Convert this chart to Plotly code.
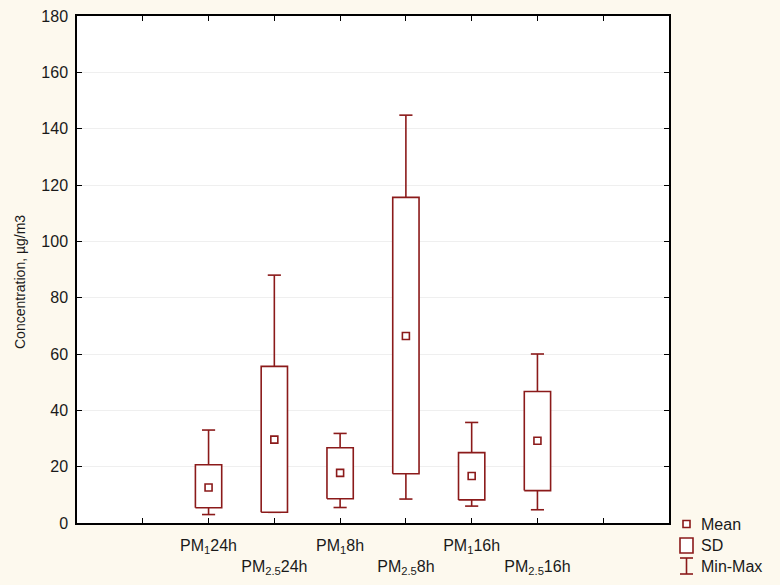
import plotly.graph_objects as go

categories = ["PM<sub>1</sub>24h", "PM<sub>2.5</sub>24h", "PM<sub>1</sub>8h",
              "PM<sub>2.5</sub>8h", "PM<sub>1</sub>16h", "PM<sub>2.5</sub>16h"]
mean_vals = [12.6, 29.6, 17.8, 66.4, 16.7, 29.2]
sd_low = [5.4, 3.8, 8.6, 17.5, 8.2, 11.5]
sd_high = [20.7, 55.6, 26.7, 115.6, 25.0, 46.7]
min_vals = [3.0, 3.8, 5.5, 8.5, 6.0, 4.7]
max_vals = [33.0, 88.0, 31.8, 144.8, 35.7, 60.0]
positions = [2, 3, 4, 5, 6, 7]
y_ticks = [0, 20, 40, 60, 80, 100, 120, 140, 160, 180]

RED = "#8B1A1A"
TXT = "#1A1A1A"
BOX_HALF = 0.2
CAP_HALF = 0.1

fig = go.Figure()

bx, by, wx, wy = [], [], [], []
for p, lo, hi, mn, mx in zip(positions, sd_low, sd_high, min_vals, max_vals):
    bx += [p - BOX_HALF, p + BOX_HALF, p + BOX_HALF, p - BOX_HALF, p - BOX_HALF, None]
    by += [lo, lo, hi, hi, lo, None]
    wx += [p, p, None, p, p, None, p - CAP_HALF, p + CAP_HALF, None, p - CAP_HALF, p + CAP_HALF, None]
    wy += [hi, mx, None, lo, mn, None, mx, mx, None, mn, mn, None]

fig.add_trace(go.Scatter(x=wx, y=wy, mode="lines", line=dict(color=RED, width=1.6),
                         hoverinfo="skip", showlegend=False))
fig.add_trace(go.Scatter(x=bx, y=by, mode="lines", fill="toself", fillcolor="white",
                         line=dict(color=RED, width=1.6), hoverinfo="skip", showlegend=False))
fig.add_trace(go.Scatter(x=positions, y=mean_vals, mode="markers",
                         marker=dict(symbol="square", size=7, color="white",
                                     line=dict(color=RED, width=1.6)),
                         showlegend=False))

ticktext = [""]
for i, c in enumerate(categories):
    ticktext.append(c if i % 2 == 0 else "<br>" + c)
ticktext.append("")

fig.update_xaxes(range=[0, 9], tickvals=list(range(1, 9)), ticktext=ticktext,
                 ticks="inside", ticklen=5, tickcolor="black", showgrid=False,
                 showline=True, linecolor="black", linewidth=1.5, mirror="ticks",
                 zeroline=False, automargin=False, ticklabelstandoff=7,
                 tickfont=dict(size=16, color=TXT))
fig.update_yaxes(range=[0, 180], tickvals=y_ticks, ticks="inside", ticklen=5,
                 tickcolor="black", showgrid=True, gridcolor="#EFEFEF", gridwidth=1,
                 showline=True, linecolor="black", linewidth=1.5, mirror="ticks",
                 zeroline=False, automargin=False, ticklabelstandoff=4,
                 tickfont=dict(size=16, color=TXT))

W, H = 592.0, 507.0
def px(x):
    return (x - 77) / W
def py(y):
    return (523 - y) / H

shapes = [
    dict(type="rect", xref="paper", yref="paper", x0=px(683), x1=px(690), y0=py(527.5), y1=py(520.5),
         line=dict(color=RED, width=1.6), fillcolor="white"),
    dict(type="rect", xref="paper", yref="paper", x0=px(680), x1=px(693), y0=py(553), y1=py(538),
         line=dict(color=RED, width=1.6), fillcolor="white"),
    dict(type="line", xref="paper", yref="paper", x0=px(686.5), x1=px(686.5), y0=py(558), y1=py(574),
         line=dict(color=RED, width=1.6)),
    dict(type="line", xref="paper", yref="paper", x0=px(680), x1=px(693), y0=py(558), y1=py(558),
         line=dict(color=RED, width=1.6)),
    dict(type="line", xref="paper", yref="paper", x0=px(680), x1=px(693), y0=py(574), y1=py(574),
         line=dict(color=RED, width=1.6)),
]
annots = [dict(text="Concentration, µg/m3", xref="paper", yref="paper", x=px(20), y=py(282),
               textangle=-90, xanchor="center", yanchor="middle", showarrow=False,
               font=dict(size=14, color=TXT))]
for label, yy in [("Mean", 524), ("SD", 545), ("Min-Max", 566)]:
    annots.append(dict(text=label, xref="paper", yref="paper", x=px(699), y=py(yy),
                       xanchor="left", yanchor="middle", showarrow=False,
                       font=dict(size=16, color=TXT)))

fig.update_layout(width=780, height=585, margin=dict(l=77, r=111, t=16, b=62),
                  paper_bgcolor="#FDF9EE", plot_bgcolor="white",
                  font=dict(family="Liberation Sans, Arial, sans-serif"),
                  shapes=shapes, annotations=annots, showlegend=False)

fig.write_html("out.html", config={"displayModeBar": False},
               post_script="document.body.style.margin='0';document.body.style.overflow='hidden';")
